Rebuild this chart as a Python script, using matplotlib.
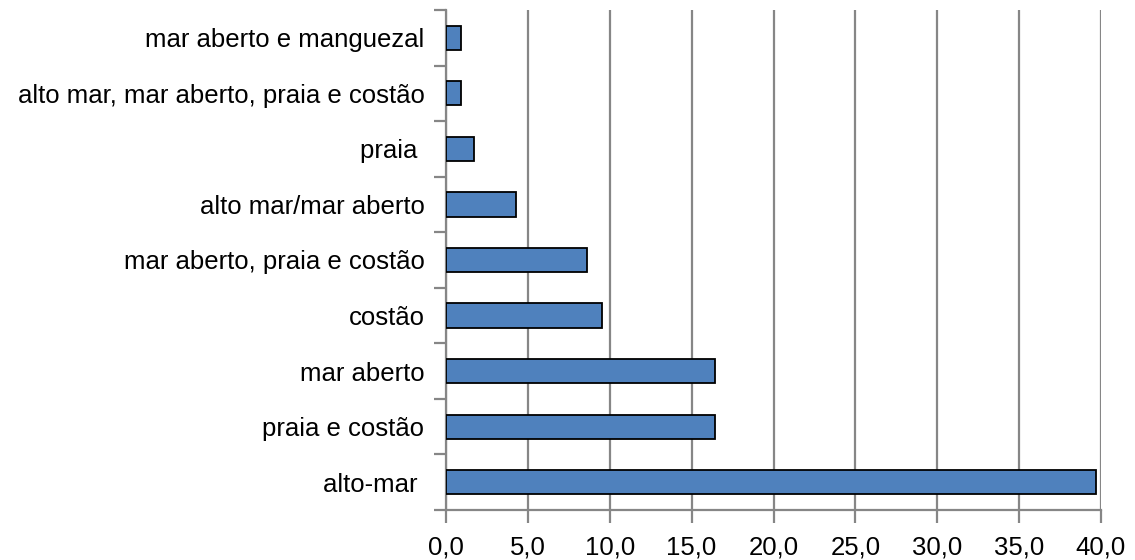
import matplotlib
matplotlib.use("Agg")
import matplotlib.pyplot as plt
from matplotlib.ticker import FixedLocator

plt.rcParams["font.family"] = ["Liberation Sans", "DejaVu Sans"]

# categorias (de baixo para cima) e percentuais
categorias = ["alto-mar ", "praia e costão", "mar aberto", "costão",
              "mar aberto, praia e costão", "alto mar/mar aberto", "praia ",
              "alto mar, mar aberto, praia e costão", "mar aberto e manguezal"]
valores = [39.7, 16.4, 16.4, 9.5, 8.6, 4.3, 1.7, 0.9, 0.9]
xticks = [0, 5, 10, 15, 20, 25, 30, 35, 40]
xlabels = ["0,0", "5,0", "10,0", "15,0", "20,0", "25,0", "30,0", "35,0", "40,0"]

cinza = "#868686"

fig = plt.figure(figsize=(11.35, 5.6), dpi=100)
ax = fig.add_axes([446 / 1135, 1 - 510 / 560, 655 / 1135, 500 / 560])

pos = list(range(len(categorias)))
ax.barh(pos, valores, height=0.435, color="#4F81BD",
        edgecolor="black", linewidth=1.3, zorder=3)

ax.set_xlim(0, 40)
ax.set_ylim(-0.5, len(categorias) - 0.5)

ax.set_xticks(xticks)
ax.set_xticklabels(xlabels, fontsize=18.5)
ax.xaxis.grid(True, color=cinza, linewidth=1.6, zorder=0)

# rótulos no centro, marcas nos limites das categorias
ax.set_yticks(pos)
ax.set_yticklabels(categorias, fontsize=18.5)
ax.tick_params(axis="y", which="major", length=0, pad=15.5)
ax.yaxis.set_minor_locator(FixedLocator([p - 0.5 for p in range(len(categorias) + 1)]))
ax.tick_params(axis="y", which="minor", length=9, width=1.6, color=cinza)
ax.tick_params(axis="x", length=9, width=1.6, color=cinza, pad=9)

for s in ["top", "right"]:
    ax.spines[s].set_visible(False)
for s in ["left", "bottom"]:
    ax.spines[s].set_color(cinza)
    ax.spines[s].set_linewidth(1.6)

fig.savefig("out.png", dpi=100)
